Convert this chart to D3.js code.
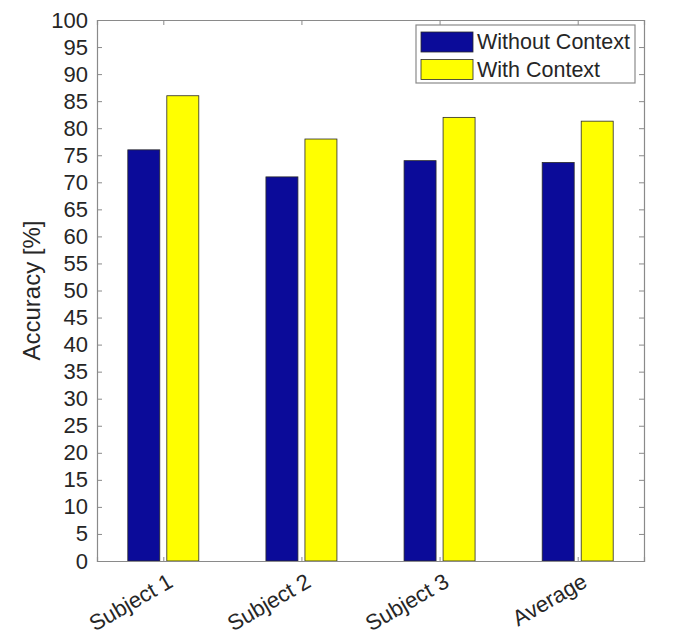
<!DOCTYPE html>
<html>
<head>
<meta charset="utf-8">
<script src="https://cdn.jsdelivr.net/npm/d3@7"></script>
<style>
  html, body { margin: 0; padding: 0; background: #fff; }
  svg { display: block; font-family: "Liberation Sans", Arial, Helvetica, sans-serif; }
</style>
</head>
<body>
<svg id="chart" width="699" height="641"></svg>
<script>
// Accuracy per subject, with and without context
const categories = ["Subject 1", "Subject 2", "Subject 3", "Average"];
const series = ["Without Context", "With Context"];
const withoutContext = [76, 71, 74, 73.67];
const withContext = [86, 78, 82, 81.3];
const yTicks = d3.range(0, 101, 5);
const colors = ["#0b0b99", "#ffff00"];

const svg = d3.select("#chart");
const plot = { left: 97, right: 644, top: 20, bottom: 561 };
const axisColor = "#8a8a8a";
const textColor = "#262626";

const x = d3.scalePoint().domain(categories).range([plot.left, plot.right]).padding(0.48);
const step = x.step();
const x1 = d3.scaleBand().domain(series)
  .range([-0.257 * step, 0.257 * step]).paddingInner(0.18);
const y = d3.scaleLinear().domain([0, 100]).range([plot.bottom, plot.top]);

const rows = categories.map((c, i) => ({ cat: c, vals: [withoutContext[i], withContext[i]] }));

// bars
const barLayer = svg.append("g");
rows.forEach(r => {
  r.vals.forEach((v, j) => {
    barLayer.append("rect")
      .attr("x", x(r.cat) + x1(series[j]))
      .attr("width", x1.bandwidth())
      .attr("y", y(v))
      .attr("height", y(0) - y(v))
      .attr("fill", colors[j])
      .attr("stroke", "#2a2a2a")
      .attr("stroke-width", 0.8);
  });
});

// left axis
const axLeft = svg.append("g").attr("transform", `translate(${plot.left},0)`)
  .call(d3.axisLeft(y).tickValues(yTicks).tickSize(-5).tickPadding(9).tickFormat(d3.format("d")));
// right axis ticks (box)
const axRight = svg.append("g").attr("transform", `translate(${plot.right},0)`)
  .call(d3.axisRight(y).tickValues(yTicks).tickSize(-5).tickFormat(""));
// bottom axis
const axBottom = svg.append("g").attr("transform", `translate(0,${plot.bottom})`)
  .call(d3.axisBottom(x).tickSize(-4).tickFormat(""));
// top axis ticks
const axTop = svg.append("g").attr("transform", `translate(0,${plot.top})`)
  .call(d3.axisTop(x).tickSize(-5).tickFormat(""));

[axLeft, axRight, axBottom, axTop].forEach(a => {
  a.selectAll(".domain").attr("stroke", axisColor).attr("stroke-width", 1.2);
  a.selectAll(".tick line").attr("stroke", axisColor);
});
axLeft.selectAll(".tick text")
  .attr("fill", textColor)
  .style("font-size", "22px")
  .style("font-family", "'Liberation Sans', Arial, sans-serif");

// rotated category labels
categories.forEach(c => {
  svg.append("text")
    .attr("transform", `translate(${x(c) + 3},${plot.bottom + 11}) rotate(-30)`)
    .attr("text-anchor", "end")
    .attr("dominant-baseline", "hanging")
    .attr("fill", textColor)
    .style("font-size", "22px")
    .text(c);
});

// y axis title
svg.append("text")
  .attr("transform", `translate(40,${(plot.top + plot.bottom) / 2}) rotate(-90)`)
  .attr("text-anchor", "middle")
  .attr("fill", textColor)
  .style("font-size", "24px")
  .text("Accuracy [%]");

// legend
const lg = svg.append("g").attr("transform", "translate(416,25)");
lg.append("rect").attr("width", 219).attr("height", 58)
  .attr("fill", "#fff").attr("stroke", axisColor).attr("stroke-width", 1.2);
series.forEach((s, j) => {
  const row = lg.append("g").attr("transform", `translate(5,${7 + j * 27.5})`);
  row.append("rect").attr("width", 52).attr("height", 20)
    .attr("fill", colors[j]).attr("stroke", "#2a2a2a").attr("stroke-width", 0.8);
  row.append("text").attr("x", 56).attr("y", 10)
    .attr("dominant-baseline", "central")
    .attr("fill", textColor)
    .style("font-size", "21.5px")
    .text(s);
});
</script>
</body>
</html>
